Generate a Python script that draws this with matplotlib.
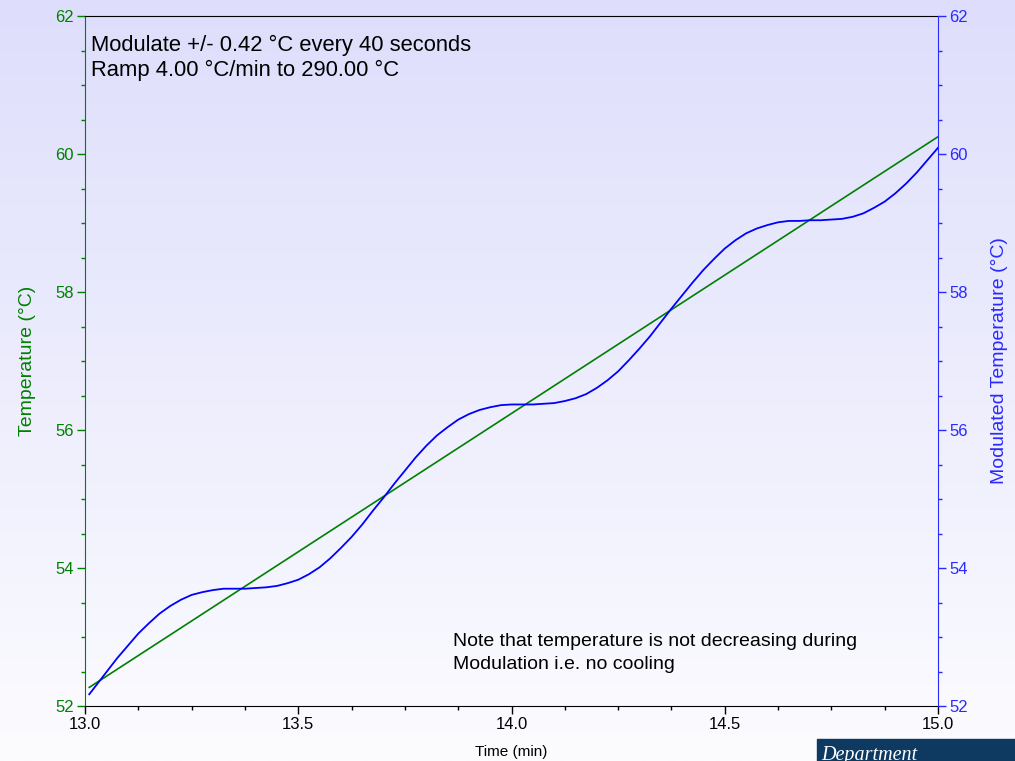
# plot.py
# Modulated DSC temperature programme: ramp vs modulated temperature

import numpy as np
import matplotlib
matplotlib.use("Agg")
import matplotlib.pyplot as plt
from matplotlib.patches import Rectangle

OUT_PATH = "out.png"

# Data
ramp_time = [13.01, 15.00]
ramp_temp = [52.27, 60.25]

mod_time = [13.01, 13.025, 13.05, 13.075, 13.10, 13.125, 13.15, 13.175, 13.20, 13.225,
            13.25, 13.275, 13.30, 13.325, 13.35, 13.375, 13.40, 13.425, 13.45, 13.475,
            13.50, 13.525, 13.55, 13.575, 13.60, 13.625, 13.65, 13.675, 13.70, 13.725,
            13.75, 13.775, 13.80, 13.825, 13.85, 13.875, 13.90, 13.925, 13.95, 13.975,
            14.00, 14.025, 14.05, 14.075, 14.10, 14.125, 14.15, 14.175, 14.20, 14.225,
            14.25, 14.275, 14.30, 14.325, 14.35, 14.375, 14.40, 14.425, 14.45, 14.475,
            14.50, 14.525, 14.55, 14.575, 14.60, 14.625, 14.65, 14.675, 14.70, 14.725,
            14.75, 14.775, 14.80, 14.825, 14.85, 14.875, 14.90, 14.925, 14.95, 14.975,
            15.00]
mod_temp = [52.17, 52.29, 52.49, 52.69, 52.87, 53.05, 53.20, 53.34, 53.45, 53.54,
            53.61, 53.65, 53.68, 53.70, 53.70, 53.70, 53.71, 53.72, 53.74, 53.78,
            53.83, 53.91, 54.01, 54.14, 54.29, 54.45, 54.63, 54.83, 55.02, 55.22,
            55.41, 55.60, 55.77, 55.92, 56.04, 56.15, 56.23, 56.29, 56.33, 56.36,
            56.37, 56.37, 56.37, 56.38, 56.39, 56.42, 56.46, 56.52, 56.61, 56.72,
            56.85, 57.01, 57.18, 57.36, 57.56, 57.76, 57.95, 58.14, 58.32, 58.48,
            58.63, 58.75, 58.85, 58.92, 58.97, 59.01, 59.03, 59.03, 59.04, 59.04,
            59.05, 59.06, 59.09, 59.14, 59.22, 59.31, 59.43, 59.57, 59.73, 59.91,
            60.09]

x_ticks = [13.0, 13.5, 14.0, 14.5, 15.0]
y_ticks = [52, 54, 56, 58, 60, 62]

GREEN = "#008000"
BLUE_LINE = "#0000ff"
BLUE_AXIS = "#2a2aff"
FONT = "Liberation Sans"

plt.rcParams["font.family"] = [FONT, "DejaVu Sans"]

fig = plt.figure(figsize=(10.15, 7.61), dpi=100)

# background gradient (lavender at the top, almost white at the bottom)
bg = fig.add_axes([0, 0, 1, 1], zorder=-10)
top = np.array([222, 222, 252]) / 255.0
bottom = np.array([252, 252, 255]) / 255.0
frac = np.linspace(0, 1, 256)[:, None]
grad = top[None, :] * (1 - frac) + bottom[None, :] * frac
bg.imshow(grad[:, None, :], aspect="auto", extent=[0, 1, 0, 1])
bg.axis("off")

ax = fig.add_axes([85 / 1015, 1 - 706 / 761, (938 - 85) / 1015, (706 - 16) / 761])
ax.patch.set_alpha(0)
ax2 = ax.twinx()

ax.plot(ramp_time, ramp_temp, color=GREEN, lw=1.2, zorder=3)
ax2.plot(mod_time, mod_temp, color=BLUE_LINE, lw=1.3, zorder=3)

for a in (ax, ax2):
    a.set_xlim(13.0, 15.0)
    a.set_ylim(52, 62)
    a.set_yticks(y_ticks)
    a.set_yticks(np.arange(52, 62.01, 0.5), minor=True)

ax.set_xticks(x_ticks)
ax.set_xticks(np.arange(13.0, 15.001, 0.125), minor=True)
ax.set_xticklabels([f"{v:.1f}" for v in x_ticks])

ax.spines["left"].set_color(GREEN)
ax.spines["top"].set_color("black")
ax.spines["bottom"].set_color("black")
ax2.spines["right"].set_color(BLUE_AXIS)
ax2.spines["left"].set_visible(False)
ax2.spines["top"].set_visible(False)
ax2.spines["bottom"].set_visible(False)
ax.spines["right"].set_visible(False)

ax.tick_params(axis="x", which="major", length=6, width=1, colors="black", labelsize=12, pad=2)
ax.tick_params(axis="x", which="minor", length=3, width=1, colors="black")
ax.tick_params(axis="y", which="major", length=6, width=1, colors=GREEN, labelsize=12, pad=2)
ax.tick_params(axis="y", which="minor", length=3, width=1, colors=GREEN)
ax2.tick_params(axis="y", which="major", length=6, width=1, colors=BLUE_AXIS, labelsize=12, pad=2)
ax2.tick_params(axis="y", which="minor", length=3, width=1, colors=BLUE_AXIS)

ax.set_xlabel("Time (min)", fontsize=11, labelpad=9)
ax.set_ylabel("Temperature (°C)", fontsize=14, color=GREEN, labelpad=14)
ax2.set_ylabel("Modulated Temperature (°C)", fontsize=14, color=BLUE_AXIS, labelpad=17)

ax.text(0.0075, 0.972, "Modulate +/- 0.42 °C every 40 seconds\nRamp 4.00 °C/min to 290.00 °C",
        transform=ax.transAxes, fontsize=15.8, va="top", ha="left", linespacing=1.22)
ax.text(0.431, 0.106, "Note that temperature is not decreasing during\nModulation i.e. no cooling",
        transform=ax.transAxes, fontsize=14, va="top", ha="left", linespacing=1.5)

# logo box bottom right
fig.patches.append(Rectangle((817 / 1015, 0), 1 - 817 / 1015, 22 / 761,
                             transform=fig.transFigure, color="#0e3a62", zorder=5))
fig.text(821 / 1015, 1 / 761, "Department", color="white", fontsize=14.5,
         family="Liberation Serif", style="italic", ha="left", va="baseline", zorder=6)

fig.savefig(OUT_PATH, dpi=100)
print(f"Figure saved: {OUT_PATH}")
